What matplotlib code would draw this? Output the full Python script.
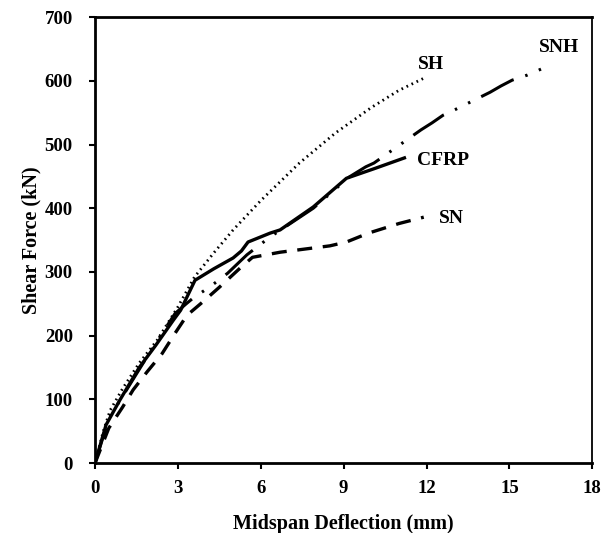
import matplotlib
matplotlib.use("Agg")
import matplotlib.pyplot as plt

# curve data (deflection mm, shear kN)
sh_x = [0, 0.3, 0.55, 1.0, 1.6, 2.25, 3.0, 3.6, 4.3, 5.0, 6.0, 7.4, 8.7, 10.0, 11.0, 11.9]
sh_y = [0, 50, 83, 117, 157, 193, 245, 292, 330, 366, 412, 471, 518, 558, 585, 604]

cfrp_x = [0, 0.4, 0.9, 1.6, 2.2, 2.83, 3.1, 3.62, 4.3, 5.0, 5.3, 5.54, 6.34, 6.7, 7.9, 9.1, 10.1, 11.2]
cfrp_y = [0, 60, 99, 150, 185, 224, 240, 287, 305, 322, 333, 347, 361, 366, 402, 447, 462, 479]

snh_x = [0, 0.5, 1.0, 2.0, 2.9, 3.3, 3.55, 4.2, 4.8, 5.5, 6.34, 7.9, 9.2, 9.8, 10.1, 11.8,
         12.2, 12.6, 13.0, 14.3, 14.7, 15.1, 15.65, 16.5]
snh_y = [0, 70, 105, 175, 235, 250, 259, 278, 298, 327, 355, 400, 449, 465, 471, 523,
         534, 546, 554, 582, 592, 601, 609, 625]

sn_x = [0, 0.5, 1.0, 1.38, 1.88, 2.43, 2.9, 3.33, 3.9, 4.5, 5.25, 5.7, 6.7, 7.6, 8.5, 9.1, 9.9, 11.0, 11.9]
sn_y = [0, 55, 88, 115, 143, 172, 204, 232, 253, 276, 306, 323, 331, 336, 341, 347, 361, 376, 386]

labels = ["SH", "SNH", "CFRP", "SN"]
label_pos = [(12.15, 625), (16.8, 653), (12.6, 475), (12.9, 384)]

xticks = [0, 3, 6, 9, 12, 15, 18]
yticks = [0, 100, 200, 300, 400, 500, 600, 700]

plt.rcParams["font.family"] = ["Liberation Serif", "DejaVu Serif"]
plt.rcParams["font.weight"] = "bold"

fig = plt.figure(figsize=(6.05, 5.33), dpi=100)
ax = fig.add_axes([0.157, 0.131, 0.822, 0.837])

ax.plot(sh_x, sh_y, color="black", linewidth=2.0, linestyle=(0, (0.6, 1.4)))
ax.plot(snh_x, snh_y, color="black", linewidth=2.2, linestyle=(0, (12, 4, 0.8, 4, 0.8, 4)))
ax.plot(cfrp_x, cfrp_y, color="black", linewidth=2.4, linestyle="-")
ax.plot(sn_x, sn_y, color="black", linewidth=2.4, linestyle=(0, (4.5, 3.2)))

for txt, (tx, ty) in zip(labels, label_pos):
    ax.text(tx, ty, txt, fontsize=14, fontweight="bold", ha="center", va="center")

ax.set_xlim(0, 18)
ax.set_ylim(0, 700)
ax.set_xticks(xticks)
ax.set_yticks(yticks)
ax.tick_params(direction="out", length=4, width=1.5, labelsize=13.5)
ax.tick_params(axis="x", pad=8)
ax.tick_params(axis="y", pad=12)
for lab in ax.get_xticklabels() + ax.get_yticklabels():
    lab.set_fontweight("bold")
for side in ["left", "bottom", "top"]:
    ax.spines[side].set_linewidth(2.0)
ax.spines["right"].set_linewidth(1.3)

ax.set_xlabel("Midspan Deflection (mm)", fontsize=14.5, fontweight="bold", labelpad=12)
ax.set_ylabel("Shear Force (kN)", fontsize=14.5, fontweight="bold", labelpad=2)

fig.savefig("out.png", dpi=100)
